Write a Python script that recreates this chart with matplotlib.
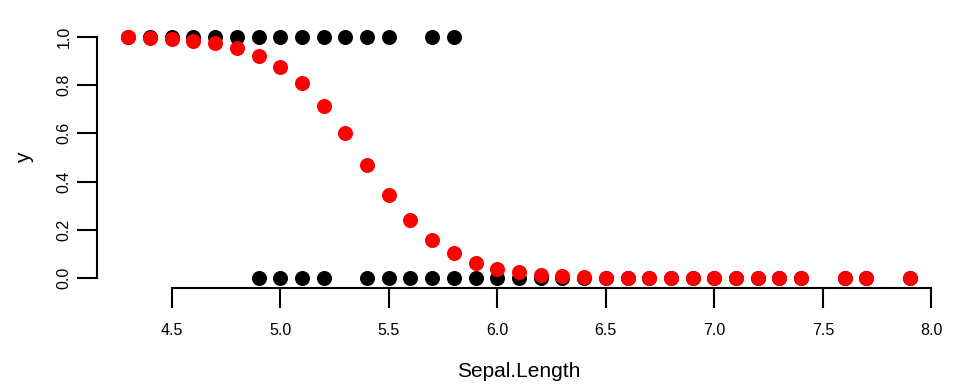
import matplotlib
matplotlib.use("Agg")
import matplotlib.pyplot as plt

plt.rcParams['font.family'] = ['Liberation Sans', 'DejaVu Sans']

# observed outcome: 1 = setosa, 0 = other species
setosa_x = [4.3, 4.4, 4.5, 4.6, 4.7, 4.8, 4.9, 5.0, 5.1, 5.2, 5.3, 5.4, 5.5, 5.7, 5.8]
other_x = [4.9, 5.0, 5.1, 5.2, 5.4, 5.5, 5.6, 5.7, 5.8, 5.9, 6.0, 6.1, 6.2, 6.3,
           6.4, 6.5, 6.6, 6.7, 6.8, 6.9, 7.0, 7.1, 7.2, 7.3, 7.4, 7.6, 7.7, 7.9]

# fitted probabilities
fit_x = [4.3, 4.4, 4.5, 4.6, 4.7, 4.8, 4.9, 5.0, 5.1, 5.2, 5.3, 5.4, 5.5, 5.6,
         5.7, 5.8, 5.9, 6.0, 6.1, 6.2, 6.3, 6.4, 6.5, 6.6, 6.7, 6.8, 6.9, 7.0,
         7.1, 7.2, 7.3, 7.4, 7.6, 7.7, 7.9]
fit_y = [0.998, 0.994, 0.99, 0.984, 0.972, 0.955, 0.922, 0.875, 0.808, 0.715,
         0.60, 0.47, 0.345, 0.24, 0.16, 0.103, 0.065, 0.04, 0.025, 0.015,
         0.009, 0.005, 0.003, 0.002, 0.001, 0.001, 0.0, 0.0,
         0.0, 0.0, 0.0, 0.0, 0.0, 0.0, 0.0]

fig = plt.figure(figsize=(9.6, 3.84), dpi=100)
ax = fig.add_axes([97/960, 1 - 288/384, (941 - 97)/960, (288 - 27)/384])

ax.scatter(setosa_x, [1] * len(setosa_x), s=117, color='black', lw=0, zorder=2)
ax.scatter(other_x, [0] * len(other_x), s=117, color='black', lw=0, zorder=2)
ax.scatter(fit_x, fit_y, s=117, color='#ff0000', lw=0, zorder=3)

ax.set_xlim(4.156, 8.044)
ax.set_ylim(-0.04, 1.04)
ax.set_xticks([4.5, 5.0, 5.5, 6.0, 6.5, 7.0, 7.5, 8.0])
ax.set_yticks([0.0, 0.2, 0.4, 0.6, 0.8, 1.0])
ax.set_xticklabels(['4.5', '5.0', '5.5', '6.0', '6.5', '7.0', '7.5', '8.0'])
ax.set_yticklabels(['0.0', '0.2', '0.4', '0.6', '0.8', '1.0'], rotation=90, va='center')

for side in ['top', 'right']:
    ax.spines[side].set_visible(False)
ax.spines['left'].set_bounds(0, 1)
ax.spines['bottom'].set_bounds(4.5, 8.0)
for side in ['left', 'bottom']:
    ax.spines[side].set_linewidth(1.5)
ax.tick_params(length=14.5, width=1.5, labelsize=11.5)
ax.tick_params(axis='x', pad=11)
ax.tick_params(axis='y', pad=4)

ax.set_xlabel('Sepal.Length', fontsize=15, labelpad=17)
ax.set_ylabel('y', fontsize=15, labelpad=16)

fig.savefig('out.png', dpi=100)
